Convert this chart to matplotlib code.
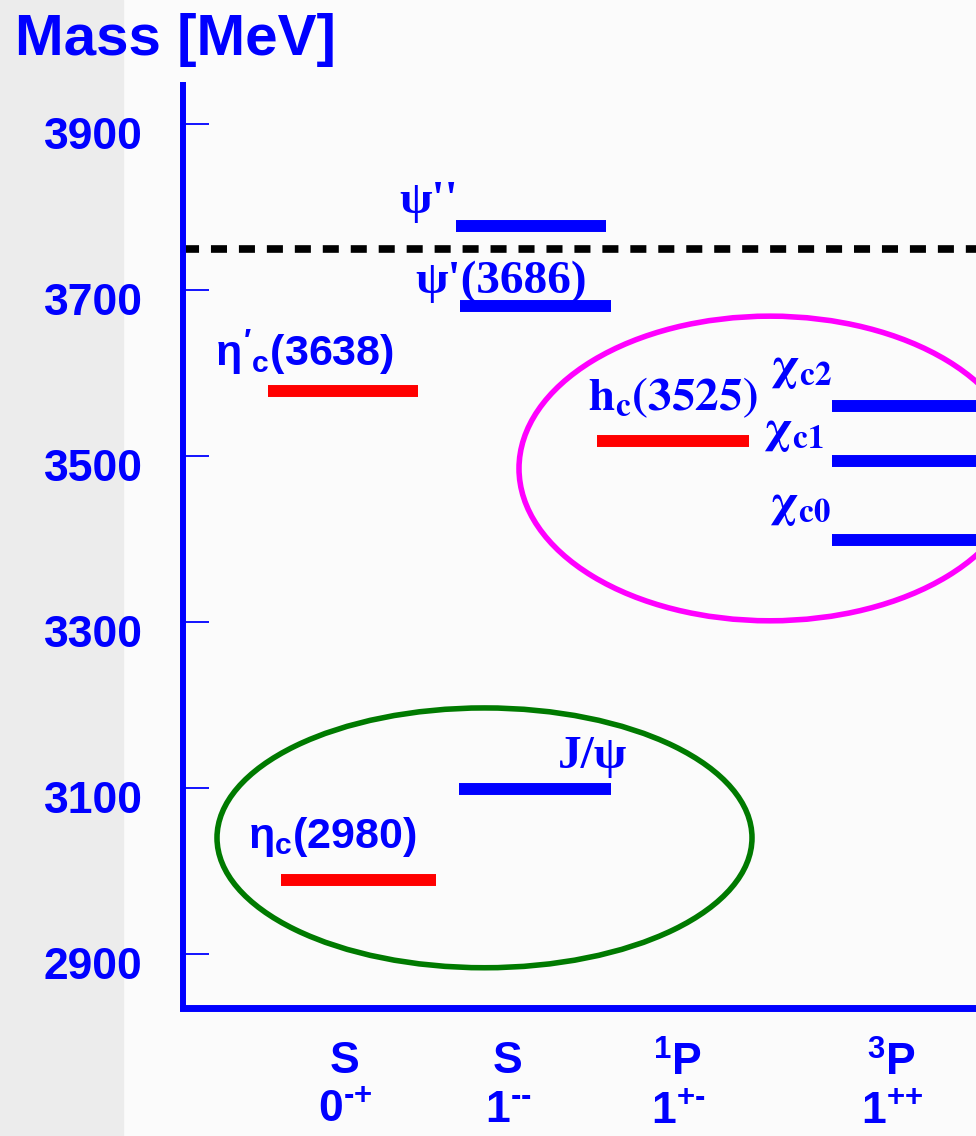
import matplotlib
matplotlib.use("Agg")
import matplotlib.pyplot as plt
from matplotlib import font_manager
from matplotlib.patches import Ellipse, Rectangle
from matplotlib.transforms import ScaledTranslation

# charmonium levels (mass in MeV, x-span in axis units)
names = ["eta_c", "J/psi", "eta_c'", "psi'", "psi''", "h_c", "chi_c2", "chi_c1", "chi_c0"]
masses = [2989, 3099, 3578, 3681, 3777, 3518, 3560, 3494, 3399]
x_start = [0.98, 2.76, 0.85, 2.77, 2.73, 4.14, 6.49, 6.49, 6.49]
x_end = [2.53, 4.28, 2.35, 4.28, 4.23, 5.66, 7.99, 7.99, 7.99]
colors = ["red", "blue", "red", "blue", "blue", "red", "blue", "blue", "blue"]
labels = [r"$\eta_c$(2980)", "J/ψ", r"$\eta'_c$(3638)", "ψ'(3686)", "ψ''",
          r"$\mathbf{h_c(3525)}$", r"$\mathbf{\chi}_{\mathbf{c2}}$",
          r"$\mathbf{\chi}_{\mathbf{c1}}$", r"$\mathbf{\chi}_{\mathbf{c0}}$"]

threshold = 3749
yticks = [2900, 3100, 3300, 3500, 3700, 3900]
col_x = [1.62, 3.25, 4.95, 7.09]
col_labels = [r"S" + "\n" + r"0$^{\text{-+}}$", r"S" + "\n" + r"1$^{\text{--}}$",
              r"${}^{1}$P" + "\n" + r"1$^{\text{+-}}$", r"${}^{3}$P" + "\n" + r"1$^{\text{++}}$"]

installed = {f.name for f in font_manager.fontManager.ttflist}
narrow = "Liberation Sans Narrow" if "Liberation Sans Narrow" in installed else "Liberation Sans"
nsize = 35 if narrow.endswith("Narrow") else 32

plt.rcParams["mathtext.fontset"] = "custom"
for k in ["rm", "it", "bf", "sf"]:
    plt.rcParams["mathtext." + k] = narrow + ":bold"

fig = plt.figure(figsize=(9.76, 11.36), dpi=100, facecolor="#fbfbfb")
fig.patches.append(Rectangle((0, 0), 123 / 976, 1, transform=fig.transFigure,
                             color="#ececec", zorder=-1))

ax = fig.add_axes([183 / 976, 128 / 1136, 793 / 976, 923 / 1136])
ax.set_facecolor("none")
ax.set_xlim(0, 7.93)
ax.set_ylim(2835, 3947)

for s in ["top", "right"]:
    ax.spines[s].set_visible(False)
ax.spines["left"].set_color("blue")
ax.spines["left"].set_linewidth(4.3)
ax.spines["bottom"].set_color("blue")
ax.spines["bottom"].set_linewidth(5)

ax.set_yticks(yticks, [str(v) for v in yticks])
ax.tick_params(axis="y", direction="in", length=19, width=1.3, color="blue",
               pad=29, labelcolor="blue", labelsize=nsize)
for lab in ax.get_yticklabels():
    lab.set_fontfamily(narrow)
    lab.set_fontweight("bold")
    lab.set_transform(lab.get_transform() + ScaledTranslation(0, -0.09, fig.dpi_scale_trans))

ax.set_xticks(col_x, col_labels)
ax.tick_params(axis="x", length=0, pad=24, labelcolor="blue", labelsize=nsize)
for lab in ax.get_xticklabels():
    lab.set_fontfamily(narrow)
    lab.set_fontweight("bold")
    lab.set_linespacing(1.25)

# open-charm threshold
ax.axhline(threshold, color="black", lw=5.5, ls=(0, (2.1, 1.56)))

ax.hlines(masses, x_start, x_end, colors=colors, lw=8.6, capstyle="butt", zorder=3)

# label placement: anchor end, alignment, offset in pixels, serif or sans
label_pos = {
    "eta_c": ("start", "left", -33, 32, "sans"),
    "J/psi": ("end", "right", 16, 21, "serif"),
    "eta_c'": ("start", "left", -53, 25, "sans"),
    "psi'": ("start", "left", -45, 13, "serif"),
    "psi''": ("start", "right", 2, 13, "serif"),
    "h_c": ("start", "left", -9, 31, "math"),
    "chi_c2": ("start", "right", 0, 27, "math"),
    "chi_c1": ("start", "right", -8, 19, "math"),
    "chi_c0": ("start", "right", -1, 24, "math"),
}
for name, m, x0, x1, lab in zip(names, masses, x_start, x_end, labels):
    anchor, ha, dx, dy, kind = label_pos[name]
    x = x0 if anchor == "start" else x1
    kw = dict(xy=(x, m), xytext=(dx, dy), textcoords="offset pixels", ha=ha,
              va="baseline", color="blue", fontweight="bold", zorder=4)
    if kind == "sans":
        ax.annotate(lab, fontfamily=narrow, fontsize=nsize - 1, **kw)
    elif kind == "serif":
        ax.annotate(lab, fontfamily="Liberation Serif", fontsize=34, **kw)
    else:
        ax.annotate(lab, fontsize=34, math_fontfamily="stix", **kw)

ax.add_patch(Ellipse((3.015, 3040), 5.35, 313, fill=False, ec="#007a00", lw=4))
ax.add_patch(Ellipse((5.87, 3485), 5.02, 367, fill=False, ec="#ff00ff", lw=4))

fig.text(15 / 976, 1 - 55 / 1136, "Mass [MeV]", color="blue", fontsize=42,
         fontweight="bold", fontfamily="Liberation Sans", va="baseline")

fig.savefig("out.png", dpi=100, facecolor=fig.get_facecolor())
